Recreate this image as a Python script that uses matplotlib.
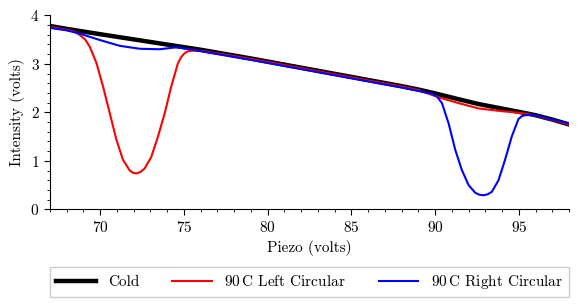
import matplotlib
matplotlib.use("Agg")
import matplotlib.pyplot as plt
from matplotlib.ticker import MultipleLocator

plt.rcParams['font.family'] = 'serif'
plt.rcParams['font.serif'] = ['cmr10']
plt.rcParams['mathtext.fontset'] = 'cm'
plt.rcParams['axes.formatter.use_mathtext'] = True

cold_x = [67, 68, 70, 73, 76, 79, 82, 85, 88, 89, 90, 91.4, 92.6, 93.8, 95, 96, 97, 98]
cold_y = [3.78, 3.72, 3.61, 3.45, 3.29, 3.11, 2.92, 2.73, 2.54, 2.47, 2.39, 2.27, 2.17, 2.09,
          2.01, 1.94, 1.85, 1.75]

left_x = [67, 68, 68.5, 68.79, 69.1, 69.38, 69.78, 70.17, 70.57, 70.97, 71.36, 71.76, 71.96,
          72.16, 72.4, 72.65, 73.05, 73.45, 73.85, 74.24, 74.64, 74.84, 75.04, 75.25, 75.53,
          76, 79, 82, 85, 88, 89, 90.2, 91.4, 92.6, 93.8, 95.0, 95.8, 97, 98]
left_y = [3.76, 3.70, 3.66, 3.59, 3.50, 3.35, 3.01, 2.53, 1.98, 1.43, 1.02, 0.80, 0.75,
          0.74, 0.77, 0.84, 1.08, 1.50, 1.98, 2.53, 3.01, 3.14, 3.22, 3.26, 3.27,
          3.27, 3.10, 2.91, 2.72, 2.53, 2.46, 2.31, 2.19, 2.08, 2.03, 1.99, 1.95, 1.84, 1.75]

right_x = [67, 68, 68.79, 69.98, 71.17, 72.36, 73.55, 74.54, 75.53, 76, 79, 82, 85, 88, 89.02,
           89.82, 90.1, 90.41, 90.81, 91.21, 91.60, 92.0, 92.40, 92.65, 92.89, 93.15, 93.39,
           93.79, 94.18, 94.58, 94.98, 95.18, 95.38, 95.87, 96.17, 97, 98]
right_y = [3.74, 3.69, 3.62, 3.49, 3.37, 3.31, 3.30, 3.34, 3.29, 3.26, 3.08, 2.89, 2.70, 2.51,
           2.44, 2.38, 2.33, 2.19, 1.77, 1.22, 0.81, 0.50, 0.34, 0.30, 0.29, 0.31, 0.36,
           0.60, 1.02, 1.50, 1.86, 1.92, 1.94, 1.95, 1.92, 1.85, 1.77]

labels = ['Cold', r'90$\,$C Left Circular', r'90$\,$C Right Circular']

fig = plt.figure(figsize=(5.8, 3.08), dpi=100)
ax = fig.add_axes([50/580, 1-209.3/308, 519/580, 194/308])

ax.plot(cold_x, cold_y, color='black', lw=3.2, label=labels[0])
ax.plot(left_x, left_y, color='red', lw=1.5, label=labels[1])
ax.plot(right_x, right_y, color='blue', lw=1.5, label=labels[2])

ax.set_xlim(67, 98)
ax.set_ylim(0, 4)
ax.xaxis.set_major_locator(MultipleLocator(5))
ax.xaxis.set_minor_locator(MultipleLocator(1))
ax.yaxis.set_major_locator(MultipleLocator(1))
ax.yaxis.set_minor_locator(MultipleLocator(0.2))
ax.spines['top'].set_visible(False)
ax.spines['right'].set_visible(False)
ax.tick_params(which='both', direction='out', labelsize=11)
ax.tick_params(which='major', length=4)
ax.tick_params(which='minor', length=2.5)
ax.set_xlabel('Piezo (volts)', fontsize=11)
ax.set_ylabel('Intensity (volts)', fontsize=11)

fig.legend(loc='lower left', bbox_to_anchor=(50/580, 1-297/308, 519/580, 28/308),
           mode='expand', ncol=3, fancybox=False, edgecolor='#cccccc', framealpha=1,
           fontsize=11, handlelength=2.6, borderaxespad=0)

fig.savefig('out.png', dpi=100)
